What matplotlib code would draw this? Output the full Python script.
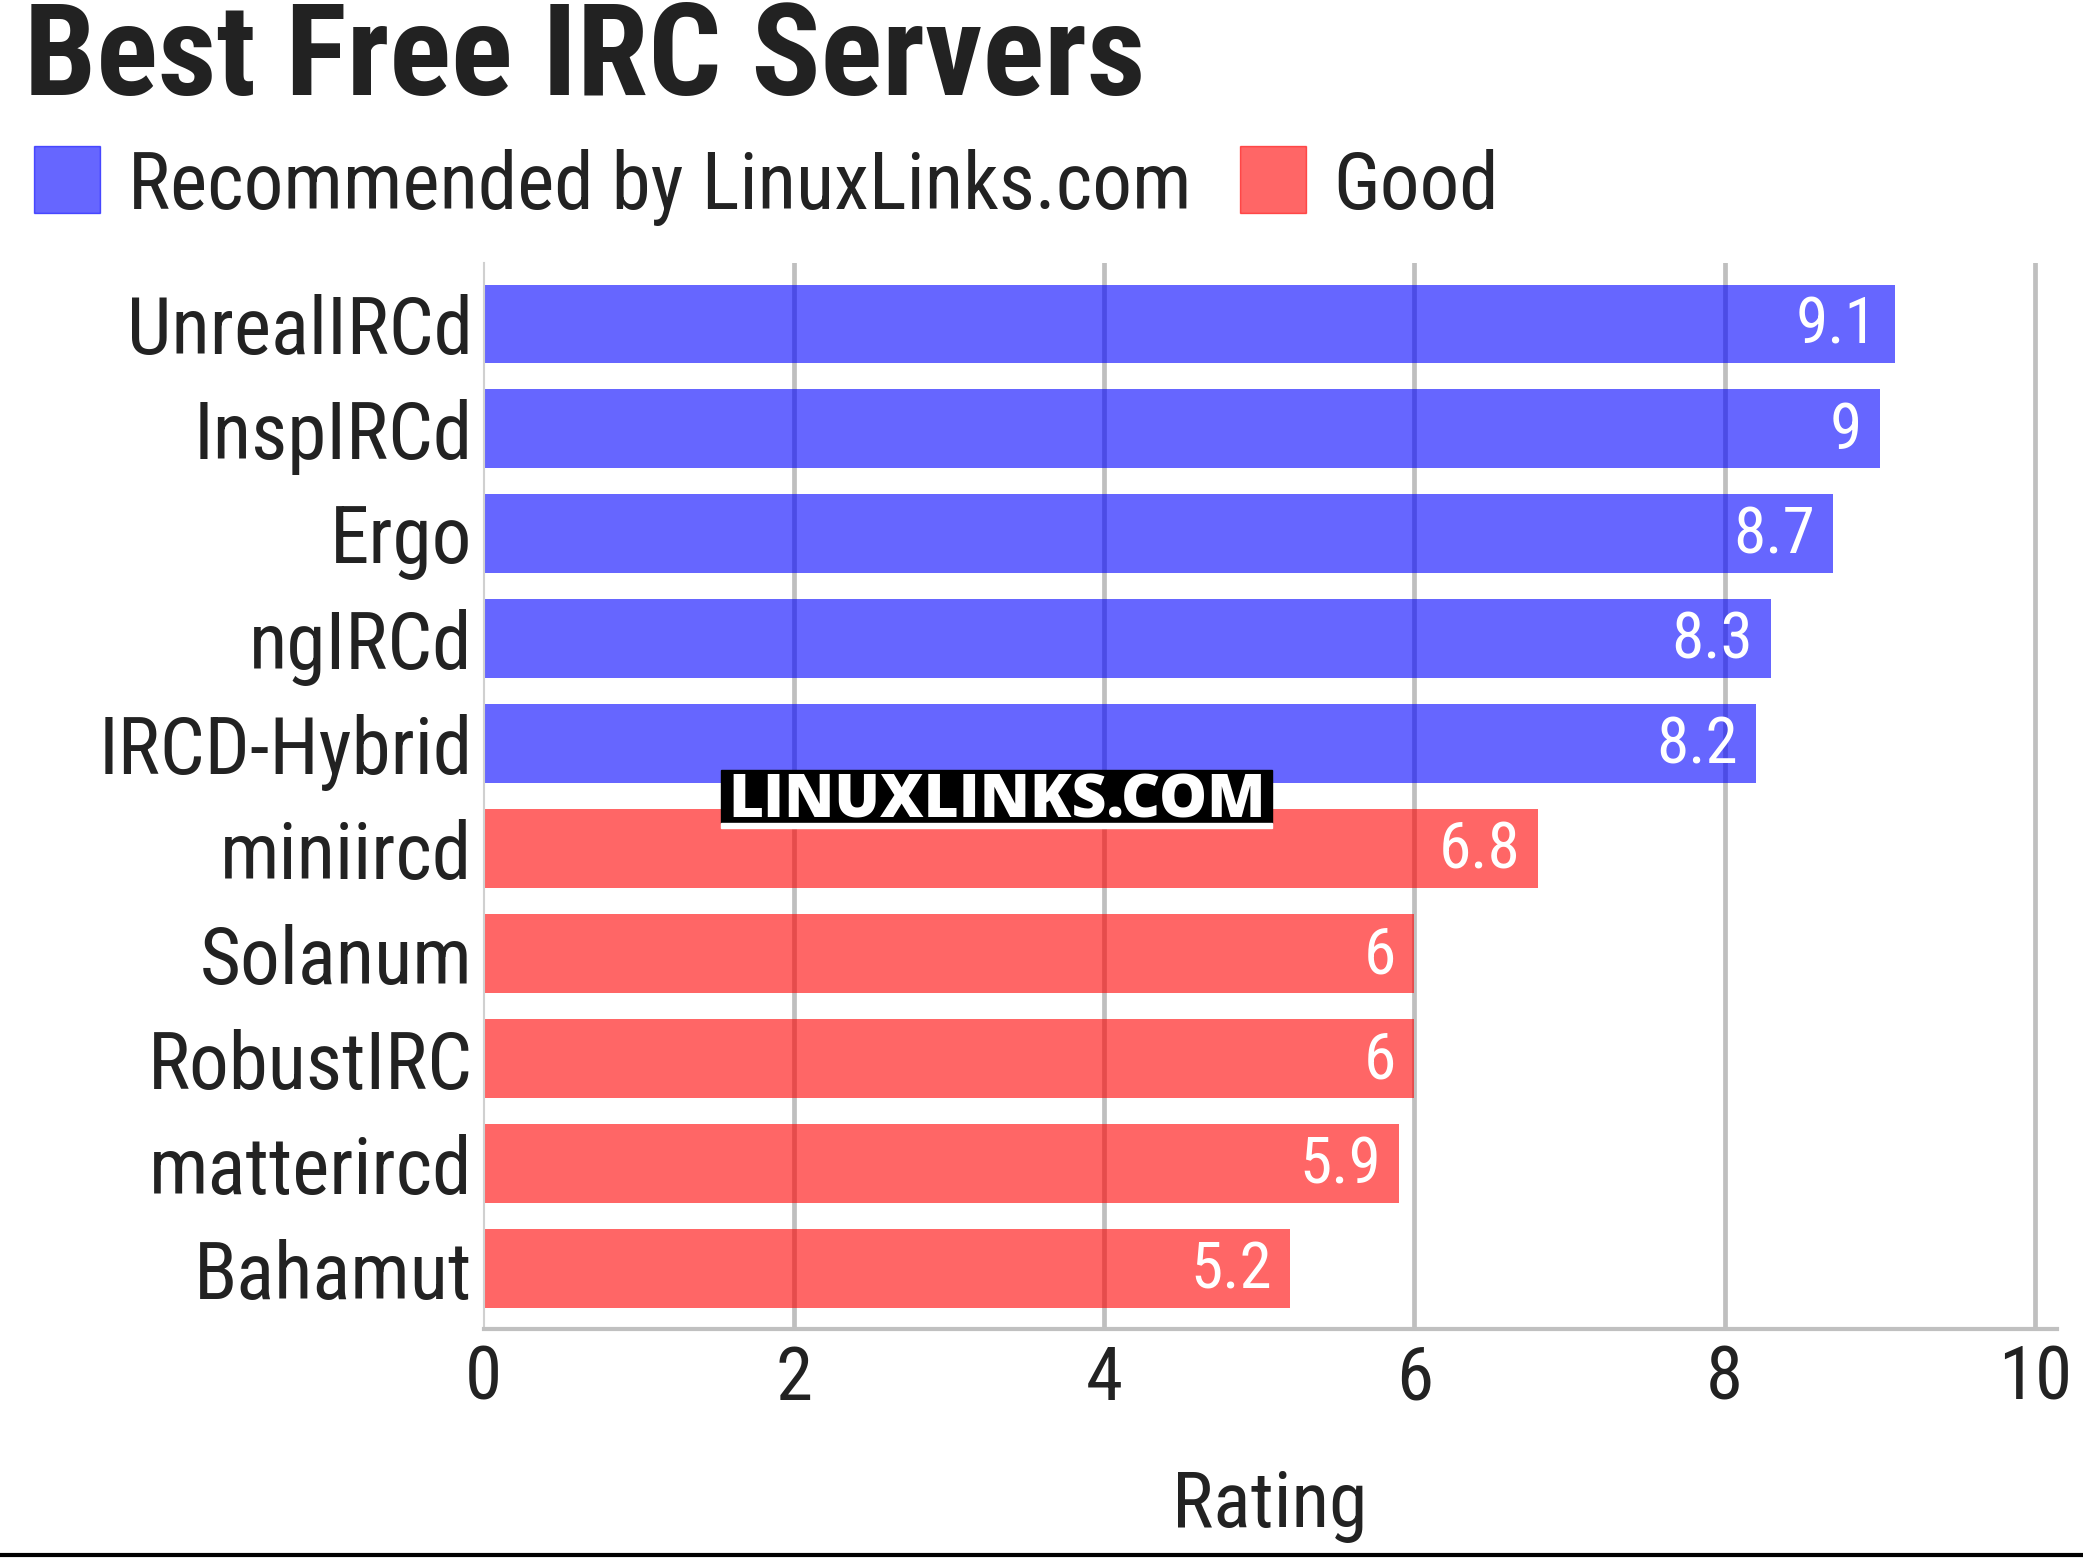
import matplotlib

matplotlib.use("Agg")
import matplotlib.pyplot as plt
from matplotlib import font_manager as fm
from matplotlib.patches import Rectangle
from matplotlib.lines import Line2D

names = ["UnrealIRCd", "InspIRCd", "Ergo", "ngIRCd", "IRCD-Hybrid",
         "miniircd", "Solanum", "RobustIRC", "matterircd", "Bahamut"]
ratings = [9.1, 9.0, 8.7, 8.3, 8.2, 6.8, 6.0, 6.0, 5.9, 5.2]
groups = ["rec", "rec", "rec", "rec", "rec",
          "good", "good", "good", "good", "good"]
value_labels = ["9.1", "9", "8.7", "8.3", "8.2", "6.8", "6", "6", "5.9", "5.2"]
xticks = [0, 2, 4, 6, 8, 10]

# bars are pure blue / red at 60% so the grid shows through them
BLUE = (0, 0, 1, 0.6)
RED = (1, 0, 0, 0.6)
TXT = "#222222"

installed = {f.name for f in fm.fontManager.ttflist}
FONT = "Roboto Condensed" if "Roboto Condensed" in installed else "Roboto"
plt.rcParams["font.family"] = [FONT, "DejaVu Sans"]

W, H = 2083, 1559
fig = plt.figure(figsize=(W / 100, H / 100), dpi=100)
ax = fig.add_axes([483.6 / W, 1 - 1328.5 / H, (2056.5 - 483.6) / W, (1328.5 - 263) / H])

colors = [BLUE if g == "rec" else RED for g in groups]
ypos = list(range(len(names)))
ax.barh(ypos, ratings, height=0.75, color=colors, zorder=2)
for y, v, lab in zip(ypos, ratings, value_labels):
    ax.annotate(lab, (v, y), xytext=(-13, -1.5), textcoords="offset points",
                ha="right", va="center", color="white", fontsize=47, zorder=3)

ax.set_xlim(0, 10.14)
ax.set_ylim(9.57, -0.58)
ax.set_xticks(xticks)
ax.set_xticklabels([str(t) for t in xticks])
ax.set_yticks(ypos)
ax.set_yticklabels(names)
ax.tick_params(axis="both", length=0, colors=TXT)
ax.tick_params(axis="x", labelsize=54, pad=11)
ax.tick_params(axis="y", labelsize=57, pad=8)
for t in xticks[1:]:
    ax.axvline(t, color="#bfbfbf", linewidth=3.4, zorder=1)

for s in ["top", "right"]:
    ax.spines[s].set_visible(False)
ax.spines["left"].set_color("#d0d0d0")
ax.spines["left"].set_linewidth(1.5)
ax.spines["bottom"].set_color("#c0c0c0")
ax.spines["bottom"].set_linewidth(3)

ax.set_xlabel("Rating", fontsize=56, color=TXT, labelpad=38)

# title
fig.text(24 / W, 1 - 95 / H, "Best Free IRC Servers", fontsize=92.5,
         fontweight="bold", color=TXT, ha="left", va="baseline")

# legend drawn by hand
fig.add_artist(Rectangle((34 / W, 1 - 213 / H), 66 / W, 67 / H,
                         transform=fig.transFigure, color=BLUE))
t1 = fig.text(128 / W, 1 - 209 / H, "Recommended by LinuxLinks.com",
              fontsize=57, color=TXT, ha="left", va="baseline")
fig.canvas.draw()
ext = t1.get_window_extent()
x_good = ext.x1 + 48
fig.add_artist(Rectangle((x_good / W, 1 - 213 / H), 66 / W, 67 / H,
                         transform=fig.transFigure, color=RED))
fig.text((x_good + 94) / W, 1 - 209 / H, "Good",
         fontsize=57, color=TXT, ha="left", va="baseline")

# watermark: black plate, thin white strip under it, bold white caps
fig.add_artist(Rectangle((721 / W, 1 - 823 / H), 551 / W, 53 / H,
                         transform=fig.transFigure, color="black", zorder=9))
fig.add_artist(Rectangle((721 / W, 1 - 828 / H), 551 / W, 5 / H,
                         transform=fig.transFigure, color="white", zorder=9))
fig.text(997 / W, 1 - 818 / H, "LINUXLINKS.COM", fontsize=43.5,
         fontweight=800, family=["Open Sans", "DejaVu Sans"],
         color="white", ha="center", va="baseline", zorder=10)

# rule at the bottom
fig.add_artist(Line2D([0, 1], [1 - 1555 / H, 1 - 1555 / H],
                      transform=fig.transFigure, color="black", linewidth=3))

fig.savefig("out.png", dpi=100)
